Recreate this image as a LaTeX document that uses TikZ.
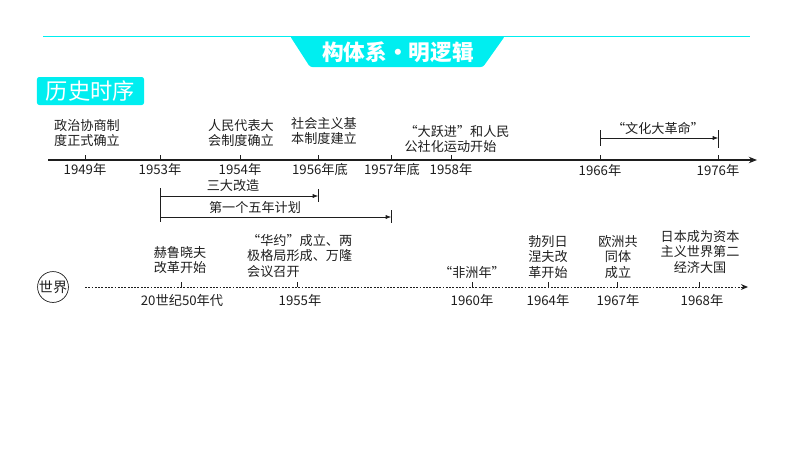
\documentclass[tikz,border=0pt]{standalone}
\usepackage{fontspec}
\setmainfont{Noto Sans CJK SC}
\usetikzlibrary{arrows,arrows.meta,calc}
\definecolor{tabcyan}{RGB}{0,238,240}
\definecolor{ink}{RGB}{30,30,30}
\tikzstyle{event} = [align=center, text=ink, font=\fontsize{11.2}{13.6}\selectfont, inner sep=0pt]
\tikzstyle{eventl} = [event, align=left]
\tikzstyle{year} = [text=ink, font=\fontsize{11.3}{13}\selectfont, inner sep=0pt]
\tikzstyle{tick} = [draw=ink, line width=0.6pt]
\tikzstyle{span} = [draw=ink, line width=0.5pt, -{Latex[length=4.5pt,width=3.5pt]}]
\tikzstyle{axis} = [draw=ink, line width=0.9pt, -{Stealth[length=7pt,width=5.5pt]}]
\tikzstyle{world} = [draw=ink, line width=0.8pt, dash pattern=on 1.6pt off 1.2pt, -{Stealth[length=6pt,width=5pt]}]

\begin{document}
\begin{tikzpicture}[x=0.03cm, y=-0.03cm]
  \useasboundingbox (0,0) rectangle (794,448);
  \pgfmathsetmacro{\ay}{160}
  \pgfmathsetmacro{\wy}{287}
  \pgfmathsetmacro{\tk}{5}
  % header
  \draw [tabcyan, line width=0.8pt] (43,36) -- (750,36);
  \fill [tabcyan, rounded corners=2pt] (290,36) -- (505,36) -- (483,67) -- (310,67) -- cycle;
  \node [text=white, font=\bfseries\fontsize{18.5}{20}\selectfont] (head) at (398,52) {构体系・明逻辑};
  \node [fill=tabcyan, rounded corners=2pt, text=white, minimum width=3.21cm, minimum height=0.84cm,
         inner sep=0pt, font=\fontsize{19}{20}\selectfont] (title) at (90.5,91) {历史时序};

  % china axis
  \coordinate (axL) at (48,\ay);
  \coordinate (axR) at (757,\ay);
  \path [axis] (axL) -- (axR);
  \coordinate (t1949) at (85,\ay);
  \coordinate (t1953) at (160,\ay);
  \coordinate (t1954) at (240,\ay);
  \coordinate (t1956) at (318,\ay);
  \coordinate (t1957) at (391,\ay);
  \coordinate (t1958) at (451,\ay);
  \coordinate (t1966) at (600,\ay);
  \coordinate (t1976) at (718,\ay);
  \path [tick] (t1949) -- +(0,-\tk);
  \path [tick] (t1953) -- +(0,-\tk);
  \path [tick] (t1954) -- +(0,-\tk);
  \path [tick] (t1956) -- +(0,-\tk);
  \path [tick] (t1957) -- +(0,-\tk);
  \path [tick] (t1958) -- +(0,-\tk);
  \path [tick] (t1966) -- +(0,-\tk);
  \path [tick] (t1976) -- +(0,-\tk);
  \node [year] at (85,169) (yr1949) {1949年};
  \node [year] at (160,169) (yr1953) {1953年};
  \node [year] at (240,169) (yr1954) {1954年};
  \node [year] at (320,169) (yr1956) {1956年底};
  \node [year] at (392,169) (yr1957) {1957年底};
  \node [year] at (451,169) (yr1958) {1958年};
  \node [year] at (600,170) (yr1966) {1966年};
  \node [year] at (718,170) (yr1976) {1976年};

  \node [event] at (87,133) (ev1949) {政治协商制\\度正式确立};
  \node [event] at (241,133) (ev1954) {人民代表大\\会制度确立};
  \node [event] at (324,131) (ev1956) {社会主义基\\本制度建立};
  \node [eventl] at (457,139) (ev1958) {“大跃进”和人民\\公社化运动开始};
  \node [event] at (658,128) (ev1966) {“文化大革命”};

  % spans
  \coordinate (wL) at (600,138);
  \coordinate (wR) at (718,138);
  \path [tick] (600,130) -- (600,146);
  \path [tick] (718,130) -- (718,148);
  \path [span] (wL) -- (wR);
  \path [tick] (160,188) -- (160,222);
  \coordinate (sgL) at (160,196);
  \coordinate (sgR) at (318,196);
  \path [span] (sgL) -- (sgR);
  \path [tick] (318,189) -- (318,202);
  \node [event] at (233,186) (sg) {三大改造};
  \coordinate (fyL) at (160,217);
  \coordinate (fyR) at (391,217);
  \path [span] (fyL) -- (fyR);
  \path [tick] (391,210) -- (391,223);
  \node [event] at (255,207) (fy) {第一个五年计划};

  % world axis
  \node [draw=ink, circle, line width=0.6pt, minimum size=0.9cm, inner sep=0pt, text=ink,
         font=\fontsize{12}{13}\selectfont] (world) at (53,\wy) {世界};
  \coordinate (wdL) at (85,\wy);
  \coordinate (wdR) at (748,\wy);
  \path [world] (wdL) -- (wdR);
  \coordinate (w50) at (181,\wy);
  \coordinate (w1955) at (297,\wy);
  \coordinate (w1960) at (472,\wy);
  \coordinate (w1964) at (548,\wy);
  \coordinate (w1967) at (617,\wy);
  \coordinate (w1968) at (699,\wy);
  \path [tick] (w50) -- +(0,-\tk);
  \path [tick] (w1955) -- +(0,-\tk);
  \path [tick] (w1960) -- +(0,-\tk);
  \path [tick] (w1964) -- +(0,-\tk);
  \path [tick] (w1967) -- +(0,-\tk);
  \path [tick] (w1968) -- +(0,-\tk);
  \node [year] at (182,300) (wyr50) {20世纪50年代};
  \node [year] at (300,300) (wyr1955) {1955年};
  \node [year] at (472,300) (wyr1960) {1960年};
  \node [year] at (548,300) (wyr1964) {1964年};
  \node [year] at (618,300) (wyr1967) {1967年};
  \node [year] at (702,300) (wyr1968) {1968年};

  \node [event] at (180,260) (wev50) {赫鲁晓夫\\改革开始};
  \node [eventl, anchor=west] at (247,256) (wev1955) {“华约”成立、两\\极格局形成、万隆\\会议召开};
  \node [event] at (472,272) (wev1960) {“非洲年”};
  \node [event] at (548,257) (wev1964) {勃列日\\涅夫改\\革开始};
  \node [event] at (618,257) (wev1967) {欧洲共\\同体\\成立};
  \node [event] at (700,252) (wev1968) {日本成为资本\\主义世界第二\\经济大国};
\end{tikzpicture}
\end{document}
